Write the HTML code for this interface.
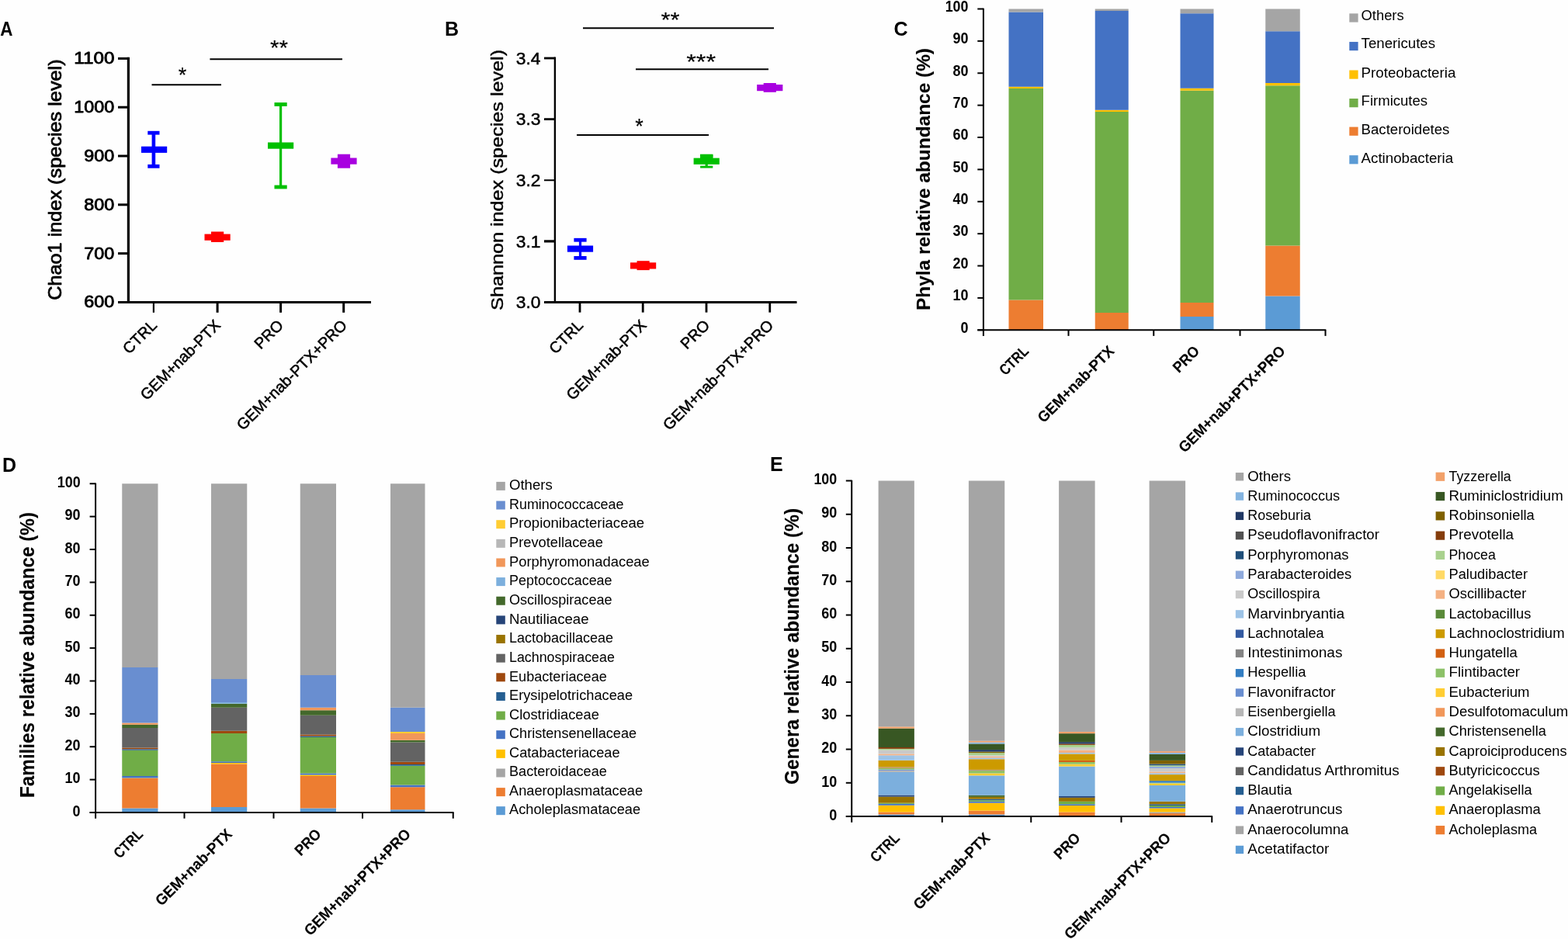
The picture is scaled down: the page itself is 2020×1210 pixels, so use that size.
<!DOCTYPE html>
<html lang="en">
<head>
<meta charset="utf-8">
<title>Gut microbiota diversity and composition</title>
<style>
html, body { margin: 0; padding: 0; background: #fff; }
body { width: 2020px; height: 1210px; overflow: hidden; }
svg { display: block; font-family: 'Liberation Sans', sans-serif; }
</style>
</head>
<body>
<svg width="2020" height="1210" viewBox="0 0 2020 1210">
<rect x="0" y="0" width="2020" height="1210" fill="#fefefe"/>
<g id="panelA">
<text x="0.20" y="45.60" font-size="25" text-anchor="start" font-weight="bold" textLength="16.20" lengthAdjust="spacingAndGlyphs">A</text>
<line x1="165.40" y1="73.80" x2="165.40" y2="391.10" stroke="#000" stroke-width="3.2" stroke-linecap="butt"/>
<line x1="152.00" y1="389.50" x2="478.00" y2="389.50" stroke="#000" stroke-width="3.2" stroke-linecap="butt"/>
<line x1="152.00" y1="75.40" x2="165.40" y2="75.40" stroke="#000" stroke-width="3.0" stroke-linecap="butt"/>
<text x="147.40" y="82.30" font-size="21.8" text-anchor="end" textLength="52.12" lengthAdjust="spacingAndGlyphs" stroke="#000" stroke-width="0.85" stroke-linejoin="round">1100</text>
<line x1="152.00" y1="138.20" x2="165.40" y2="138.20" stroke="#000" stroke-width="3.0" stroke-linecap="butt"/>
<text x="147.40" y="145.10" font-size="21.8" text-anchor="end" textLength="52.12" lengthAdjust="spacingAndGlyphs" stroke="#000" stroke-width="0.85" stroke-linejoin="round">1000</text>
<line x1="152.00" y1="201.00" x2="165.40" y2="201.00" stroke="#000" stroke-width="3.0" stroke-linecap="butt"/>
<text x="147.40" y="207.90" font-size="21.8" text-anchor="end" textLength="39.09" lengthAdjust="spacingAndGlyphs" stroke="#000" stroke-width="0.85" stroke-linejoin="round">900</text>
<line x1="152.00" y1="263.80" x2="165.40" y2="263.80" stroke="#000" stroke-width="3.0" stroke-linecap="butt"/>
<text x="147.40" y="270.70" font-size="21.8" text-anchor="end" textLength="39.09" lengthAdjust="spacingAndGlyphs" stroke="#000" stroke-width="0.85" stroke-linejoin="round">800</text>
<line x1="152.00" y1="326.60" x2="165.40" y2="326.60" stroke="#000" stroke-width="3.0" stroke-linecap="butt"/>
<text x="147.40" y="333.50" font-size="21.8" text-anchor="end" textLength="39.09" lengthAdjust="spacingAndGlyphs" stroke="#000" stroke-width="0.85" stroke-linejoin="round">700</text>
<line x1="152.00" y1="389.50" x2="165.40" y2="389.50" stroke="#000" stroke-width="3.0" stroke-linecap="butt"/>
<text x="147.40" y="396.40" font-size="21.8" text-anchor="end" textLength="39.09" lengthAdjust="spacingAndGlyphs" stroke="#000" stroke-width="0.85" stroke-linejoin="round">600</text>
<line x1="197.90" y1="389.50" x2="197.90" y2="402.80" stroke="#000" stroke-width="2.2" stroke-linecap="butt"/>
<line x1="280.10" y1="389.50" x2="280.10" y2="402.80" stroke="#000" stroke-width="3" stroke-linecap="butt"/>
<line x1="361.60" y1="389.50" x2="361.60" y2="402.80" stroke="#000" stroke-width="3" stroke-linecap="butt"/>
<line x1="442.70" y1="389.50" x2="442.70" y2="402.80" stroke="#000" stroke-width="3" stroke-linecap="butt"/>
<text x="79.00" y="231.60" font-size="23.4" text-anchor="middle" transform="rotate(-90 79.00 231.60)" textLength="310.50" lengthAdjust="spacingAndGlyphs" stroke="#000" stroke-width="0.75" stroke-linejoin="round">Chao1 index (species level)</text>
<text x="203.30" y="420.40" font-size="20" text-anchor="end" transform="rotate(-45 203.30 420.40)" stroke="#000" stroke-width="0.55" stroke-linejoin="round">CTRL</text>
<text x="285.30" y="420.40" font-size="20" text-anchor="end" transform="rotate(-45 285.30 420.40)" stroke="#000" stroke-width="0.55" stroke-linejoin="round">GEM+nab-PTX</text>
<text x="366.30" y="420.40" font-size="20" text-anchor="end" transform="rotate(-45 366.30 420.40)" stroke="#000" stroke-width="0.55" stroke-linejoin="round">PRO</text>
<text x="448.30" y="420.40" font-size="20" text-anchor="end" transform="rotate(-45 448.30 420.40)" stroke="#000" stroke-width="0.55" stroke-linejoin="round">GEM+nab-PTX+PRO</text>
<rect x="195.60" y="171.20" width="4.60" height="43.10" fill="#0000ff"/>
<rect x="190.30" y="168.80" width="15.20" height="4.80" fill="#0000ff"/>
<rect x="190.30" y="211.90" width="15.20" height="4.80" fill="#0000ff"/>
<rect x="182.00" y="188.70" width="33.20" height="8.20" fill="#0000ff"/>
<rect x="272.00" y="298.50" width="16.20" height="13.50" fill="#ff0000"/>
<rect x="263.50" y="301.60" width="33.20" height="8.20" fill="#ff0000"/>
<rect x="360.00" y="134.50" width="3.20" height="106.50" fill="#00c000"/>
<rect x="353.50" y="132.10" width="16.20" height="4.80" fill="#00c000"/>
<rect x="353.50" y="238.60" width="16.20" height="4.80" fill="#00c000"/>
<rect x="345.00" y="183.50" width="33.20" height="8.20" fill="#00c000"/>
<rect x="434.90" y="198.70" width="16.20" height="18.00" fill="#a800e0"/>
<rect x="426.40" y="203.50" width="33.20" height="8.20" fill="#a800e0"/>
<line x1="195.50" y1="109.30" x2="285.00" y2="109.30" stroke="#000" stroke-width="2" stroke-linecap="butt"/>
<line x1="270.40" y1="76.20" x2="441.00" y2="76.20" stroke="#000" stroke-width="2" stroke-linecap="butt"/>
<text x="234.90" y="105.80" font-size="27" text-anchor="middle" stroke="#000" stroke-width="0.15" stroke-linejoin="round">*</text>
<text x="359.60" y="71.10" font-size="27" text-anchor="middle" textLength="23.00" lengthAdjust="spacingAndGlyphs" stroke="#000" stroke-width="0.15" stroke-linejoin="round">**</text>
</g>
<g id="panelB">
<text x="573.00" y="46.00" font-size="25" text-anchor="start" font-weight="bold">B</text>
<line x1="714.90" y1="73.50" x2="714.90" y2="391.00" stroke="#000" stroke-width="2.4" stroke-linecap="butt"/>
<line x1="701.00" y1="389.50" x2="1026.50" y2="389.50" stroke="#000" stroke-width="3.0" stroke-linecap="butt"/>
<line x1="701.00" y1="75.00" x2="714.90" y2="75.00" stroke="#000" stroke-width="2.8" stroke-linecap="butt"/>
<text x="696.50" y="82.80" font-size="21.8" text-anchor="end" textLength="31.67" lengthAdjust="spacingAndGlyphs" stroke="#000" stroke-width="0.5" stroke-linejoin="round">3.4</text>
<line x1="701.00" y1="153.60" x2="714.90" y2="153.60" stroke="#000" stroke-width="2.8" stroke-linecap="butt"/>
<text x="696.50" y="161.40" font-size="21.8" text-anchor="end" textLength="31.67" lengthAdjust="spacingAndGlyphs" stroke="#000" stroke-width="0.5" stroke-linejoin="round">3.3</text>
<line x1="701.00" y1="232.25" x2="714.90" y2="232.25" stroke="#000" stroke-width="2.0" stroke-linecap="butt"/>
<text x="696.50" y="240.05" font-size="21.8" text-anchor="end" textLength="31.67" lengthAdjust="spacingAndGlyphs" stroke="#000" stroke-width="0.5" stroke-linejoin="round">3.2</text>
<line x1="701.00" y1="310.90" x2="714.90" y2="310.90" stroke="#000" stroke-width="3.2" stroke-linecap="butt"/>
<text x="696.50" y="318.70" font-size="21.8" text-anchor="end" textLength="31.67" lengthAdjust="spacingAndGlyphs" stroke="#000" stroke-width="0.5" stroke-linejoin="round">3.1</text>
<line x1="701.00" y1="389.50" x2="714.90" y2="389.50" stroke="#000" stroke-width="3.0" stroke-linecap="butt"/>
<text x="696.50" y="397.30" font-size="21.8" text-anchor="end" textLength="31.67" lengthAdjust="spacingAndGlyphs" stroke="#000" stroke-width="0.5" stroke-linejoin="round">3.0</text>
<line x1="747.00" y1="389.50" x2="747.00" y2="402.60" stroke="#000" stroke-width="2.8" stroke-linecap="butt"/>
<line x1="828.20" y1="389.50" x2="828.20" y2="402.60" stroke="#000" stroke-width="2.8" stroke-linecap="butt"/>
<line x1="910.00" y1="389.50" x2="910.00" y2="402.60" stroke="#000" stroke-width="2.8" stroke-linecap="butt"/>
<line x1="991.75" y1="389.50" x2="991.75" y2="402.60" stroke="#000" stroke-width="2.8" stroke-linecap="butt"/>
<text x="647.90" y="231.90" font-size="22.2" text-anchor="middle" transform="rotate(-90 647.90 231.90)" textLength="336.00" lengthAdjust="spacingAndGlyphs" stroke="#000" stroke-width="0.45" stroke-linejoin="round">Shannon index (species level)</text>
<text x="752.50" y="420.40" font-size="20" text-anchor="end" transform="rotate(-45 752.50 420.40)" stroke="#000" stroke-width="0.55" stroke-linejoin="round">CTRL</text>
<text x="834.00" y="420.40" font-size="20" text-anchor="end" transform="rotate(-45 834.00 420.40)" stroke="#000" stroke-width="0.55" stroke-linejoin="round">GEM+nab-PTX</text>
<text x="915.50" y="420.40" font-size="20" text-anchor="end" transform="rotate(-45 915.50 420.40)" stroke="#000" stroke-width="0.55" stroke-linejoin="round">PRO</text>
<text x="997.50" y="420.40" font-size="20" text-anchor="end" transform="rotate(-45 997.50 420.40)" stroke="#000" stroke-width="0.55" stroke-linejoin="round">GEM+nab-PTX+PRO</text>
<rect x="745.90" y="309.25" width="3.20" height="23.15" fill="#0000ff"/>
<rect x="739.40" y="306.85" width="16.20" height="4.80" fill="#0000ff"/>
<rect x="739.40" y="330.00" width="16.20" height="4.80" fill="#0000ff"/>
<rect x="730.90" y="316.50" width="33.20" height="8.20" fill="#0000ff"/>
<rect x="820.50" y="336.20" width="16.20" height="11.90" fill="#ff0000"/>
<rect x="812.00" y="338.30" width="33.20" height="8.20" fill="#ff0000"/>
<rect x="908.60" y="201.20" width="3.20" height="13.90" fill="#00c000"/>
<rect x="902.10" y="199.75" width="16.20" height="2.90" fill="#00c000"/>
<rect x="902.10" y="213.65" width="16.20" height="2.90" fill="#00c000"/>
<rect x="893.60" y="203.65" width="33.20" height="8.20" fill="#00c000"/>
<rect x="902.00" y="198.70" width="16.50" height="5.30" fill="#00c000"/>
<rect x="983.65" y="107.00" width="16.20" height="11.80" fill="#a800e0"/>
<rect x="975.15" y="109.00" width="33.20" height="8.20" fill="#a800e0"/>
<line x1="751.00" y1="36.25" x2="997.00" y2="36.25" stroke="#000" stroke-width="2" stroke-linecap="butt"/>
<line x1="819.00" y1="89.25" x2="990.00" y2="89.25" stroke="#000" stroke-width="2" stroke-linecap="butt"/>
<line x1="743.00" y1="174.00" x2="913.00" y2="174.00" stroke="#000" stroke-width="2" stroke-linecap="butt"/>
<text x="863.50" y="34.60" font-size="27" text-anchor="middle" textLength="24.00" lengthAdjust="spacingAndGlyphs" stroke="#000" stroke-width="0.15" stroke-linejoin="round">**</text>
<text x="903.20" y="88.80" font-size="27" text-anchor="middle" textLength="38.00" lengthAdjust="spacingAndGlyphs" stroke="#000" stroke-width="0.15" stroke-linejoin="round">***</text>
<text x="823.50" y="172.10" font-size="27" text-anchor="middle" stroke="#000" stroke-width="0.15" stroke-linejoin="round">*</text>
</g>
<g id="panelC">
<text x="1151.50" y="45.80" font-size="25" text-anchor="start" font-weight="bold">C</text>
<rect x="1299.50" y="386.50" width="44.50" height="38.50" fill="#ed7d31"/>
<rect x="1299.50" y="114.00" width="44.50" height="272.50" fill="#70ad47"/>
<rect x="1299.50" y="111.75" width="44.50" height="2.25" fill="#ffc000"/>
<rect x="1299.50" y="15.50" width="44.50" height="96.25" fill="#4472c4"/>
<rect x="1299.50" y="11.50" width="44.50" height="4.00" fill="#a5a5a5"/>
<rect x="1410.75" y="403.00" width="43.00" height="22.00" fill="#ed7d31"/>
<rect x="1410.75" y="144.00" width="43.00" height="259.00" fill="#70ad47"/>
<rect x="1410.75" y="141.75" width="43.00" height="2.25" fill="#ffc000"/>
<rect x="1410.75" y="14.00" width="43.00" height="127.75" fill="#4472c4"/>
<rect x="1410.75" y="11.50" width="43.00" height="2.50" fill="#a5a5a5"/>
<rect x="1520.50" y="408.00" width="43.00" height="17.00" fill="#5b9bd5"/>
<rect x="1520.50" y="390.00" width="43.00" height="18.00" fill="#ed7d31"/>
<rect x="1520.50" y="116.75" width="43.00" height="273.25" fill="#70ad47"/>
<rect x="1520.50" y="113.75" width="43.00" height="3.00" fill="#ffc000"/>
<rect x="1520.50" y="17.25" width="43.00" height="96.50" fill="#4472c4"/>
<rect x="1520.50" y="11.50" width="43.00" height="5.75" fill="#a5a5a5"/>
<rect x="1630.25" y="381.50" width="44.50" height="43.50" fill="#5b9bd5"/>
<rect x="1630.25" y="316.50" width="44.50" height="65.00" fill="#ed7d31"/>
<rect x="1630.25" y="110.25" width="44.50" height="206.25" fill="#70ad47"/>
<rect x="1630.25" y="107.00" width="44.50" height="3.25" fill="#ffc000"/>
<rect x="1630.25" y="40.25" width="44.50" height="66.75" fill="#4472c4"/>
<rect x="1630.25" y="11.50" width="44.50" height="28.75" fill="#a5a5a5"/>
<line x1="1266.90" y1="10.70" x2="1266.90" y2="432.90" stroke="#000" stroke-width="2.0" stroke-linecap="butt"/>
<line x1="1259.30" y1="425.30" x2="1708.30" y2="425.30" stroke="#000" stroke-width="2.0" stroke-linecap="butt"/>
<line x1="1259.30" y1="11.50" x2="1266.90" y2="11.50" stroke="#000" stroke-width="2.0" stroke-linecap="butt"/>
<text x="1247.50" y="14.80" font-size="19.6" text-anchor="end" font-weight="bold" textLength="29.80" lengthAdjust="spacingAndGlyphs">100</text>
<line x1="1259.30" y1="52.88" x2="1266.90" y2="52.88" stroke="#000" stroke-width="2.0" stroke-linecap="butt"/>
<text x="1247.50" y="56.18" font-size="19.6" text-anchor="end" font-weight="bold" textLength="20.00" lengthAdjust="spacingAndGlyphs">90</text>
<line x1="1259.30" y1="94.26" x2="1266.90" y2="94.26" stroke="#000" stroke-width="2.0" stroke-linecap="butt"/>
<text x="1247.50" y="97.56" font-size="19.6" text-anchor="end" font-weight="bold" textLength="20.00" lengthAdjust="spacingAndGlyphs">80</text>
<line x1="1259.30" y1="135.64" x2="1266.90" y2="135.64" stroke="#000" stroke-width="2.0" stroke-linecap="butt"/>
<text x="1247.50" y="138.94" font-size="19.6" text-anchor="end" font-weight="bold" textLength="20.00" lengthAdjust="spacingAndGlyphs">70</text>
<line x1="1259.30" y1="177.02" x2="1266.90" y2="177.02" stroke="#000" stroke-width="2.0" stroke-linecap="butt"/>
<text x="1247.50" y="180.32" font-size="19.6" text-anchor="end" font-weight="bold" textLength="20.00" lengthAdjust="spacingAndGlyphs">60</text>
<line x1="1259.30" y1="218.40" x2="1266.90" y2="218.40" stroke="#000" stroke-width="2.0" stroke-linecap="butt"/>
<text x="1247.50" y="221.70" font-size="19.6" text-anchor="end" font-weight="bold" textLength="20.00" lengthAdjust="spacingAndGlyphs">50</text>
<line x1="1259.30" y1="259.78" x2="1266.90" y2="259.78" stroke="#000" stroke-width="2.0" stroke-linecap="butt"/>
<text x="1247.50" y="263.08" font-size="19.6" text-anchor="end" font-weight="bold" textLength="20.00" lengthAdjust="spacingAndGlyphs">40</text>
<line x1="1259.30" y1="301.16" x2="1266.90" y2="301.16" stroke="#000" stroke-width="2.0" stroke-linecap="butt"/>
<text x="1247.50" y="304.46" font-size="19.6" text-anchor="end" font-weight="bold" textLength="20.00" lengthAdjust="spacingAndGlyphs">30</text>
<line x1="1259.30" y1="342.54" x2="1266.90" y2="342.54" stroke="#000" stroke-width="2.0" stroke-linecap="butt"/>
<text x="1247.50" y="345.84" font-size="19.6" text-anchor="end" font-weight="bold" textLength="20.00" lengthAdjust="spacingAndGlyphs">20</text>
<line x1="1259.30" y1="383.92" x2="1266.90" y2="383.92" stroke="#000" stroke-width="2.0" stroke-linecap="butt"/>
<text x="1247.50" y="387.22" font-size="19.6" text-anchor="end" font-weight="bold" textLength="20.00" lengthAdjust="spacingAndGlyphs">10</text>
<line x1="1259.30" y1="425.30" x2="1266.90" y2="425.30" stroke="#000" stroke-width="2.0" stroke-linecap="butt"/>
<text x="1247.50" y="428.60" font-size="19.6" text-anchor="end" font-weight="bold" textLength="10.00" lengthAdjust="spacingAndGlyphs">0</text>
<line x1="1376.50" y1="425.30" x2="1376.50" y2="432.90" stroke="#000" stroke-width="2.0" stroke-linecap="butt"/>
<line x1="1486.25" y1="425.30" x2="1486.25" y2="432.90" stroke="#000" stroke-width="2.0" stroke-linecap="butt"/>
<line x1="1597.50" y1="425.30" x2="1597.50" y2="432.90" stroke="#000" stroke-width="2.0" stroke-linecap="butt"/>
<line x1="1707.50" y1="425.30" x2="1707.50" y2="432.90" stroke="#000" stroke-width="2.0" stroke-linecap="butt"/>
<text x="1198.00" y="231.00" font-size="24.3" text-anchor="middle" font-weight="bold" transform="rotate(-90 1198.00 231.00)" textLength="338.00" lengthAdjust="spacingAndGlyphs" stroke="#000" stroke-width="0.12" stroke-linejoin="round">Phyla relative abundance (%)</text>
<text x="1326.40" y="453.60" font-size="19.5" text-anchor="end" font-weight="bold" transform="rotate(-45 1326.40 453.60)" textLength="44.20" lengthAdjust="spacingAndGlyphs" stroke="#000" stroke-width="0.1" stroke-linejoin="round">CTRL</text>
<text x="1436.65" y="453.60" font-size="19.5" text-anchor="end" font-weight="bold" transform="rotate(-45 1436.65 453.60)" textLength="130.40" lengthAdjust="spacingAndGlyphs" stroke="#000" stroke-width="0.1" stroke-linejoin="round">GEM+nab-PTX</text>
<text x="1546.40" y="453.60" font-size="19.5" text-anchor="end" font-weight="bold" transform="rotate(-45 1546.40 453.60)" textLength="39.00" lengthAdjust="spacingAndGlyphs" stroke="#000" stroke-width="0.1" stroke-linejoin="round">PRO</text>
<text x="1656.90" y="453.60" font-size="19.5" text-anchor="end" font-weight="bold" transform="rotate(-45 1656.90 453.60)" textLength="184.60" lengthAdjust="spacingAndGlyphs" stroke="#000" stroke-width="0.1" stroke-linejoin="round">GEM+nab+PTX+PRO</text>
<rect x="1738.30" y="17.40" width="11.30" height="11.20" fill="#a5a5a5"/>
<text x="1753.60" y="25.50" font-size="18" text-anchor="start" textLength="55.00" lengthAdjust="spacingAndGlyphs">Others</text>
<rect x="1738.30" y="53.95" width="11.30" height="11.20" fill="#4472c4"/>
<text x="1753.60" y="61.70" font-size="18" text-anchor="start" textLength="95.50" lengthAdjust="spacingAndGlyphs">Tenericutes</text>
<rect x="1738.30" y="90.50" width="11.30" height="11.20" fill="#ffc000"/>
<text x="1753.60" y="99.70" font-size="18" text-anchor="start" textLength="121.75" lengthAdjust="spacingAndGlyphs">Proteobacteria</text>
<rect x="1738.30" y="127.05" width="11.30" height="11.20" fill="#70ad47"/>
<text x="1753.60" y="136.30" font-size="18" text-anchor="start" textLength="85.50" lengthAdjust="spacingAndGlyphs">Firmicutes</text>
<rect x="1738.30" y="163.60" width="11.30" height="11.20" fill="#ed7d31"/>
<text x="1753.60" y="173.20" font-size="18" text-anchor="start" textLength="113.75" lengthAdjust="spacingAndGlyphs">Bacteroidetes</text>
<rect x="1738.30" y="200.15" width="11.30" height="11.20" fill="#5b9bd5"/>
<text x="1753.60" y="210.00" font-size="18" text-anchor="start" textLength="118.50" lengthAdjust="spacingAndGlyphs">Actinobacteria</text>
</g>
<g id="panelD">
<text x="3.00" y="607.50" font-size="25" text-anchor="start" font-weight="bold">D</text>
<rect x="157.25" y="1041.50" width="46.25" height="5.50" fill="#5b9bd5"/>
<rect x="157.25" y="1003.00" width="46.25" height="38.50" fill="#ed7d31"/>
<rect x="157.25" y="1002.50" width="46.25" height="0.50" fill="#ffc000"/>
<rect x="157.25" y="1000.00" width="46.25" height="2.50" fill="#4472c4"/>
<rect x="157.25" y="966.75" width="46.25" height="33.25" fill="#70ad47"/>
<rect x="157.25" y="965.25" width="46.25" height="1.50" fill="#255e91"/>
<rect x="157.25" y="963.50" width="46.25" height="1.75" fill="#9e480e"/>
<rect x="157.25" y="938.00" width="46.25" height="25.50" fill="#636363"/>
<rect x="157.25" y="933.75" width="46.25" height="4.25" fill="#43682b"/>
<rect x="157.25" y="931.50" width="46.25" height="2.25" fill="#f1975a"/>
<rect x="157.25" y="860.00" width="46.25" height="71.50" fill="#698ed0"/>
<rect x="157.25" y="623.25" width="46.25" height="236.75" fill="#a5a5a5"/>
<rect x="272.00" y="1040.00" width="46.25" height="7.00" fill="#5b9bd5"/>
<rect x="272.00" y="984.50" width="46.25" height="55.50" fill="#ed7d31"/>
<rect x="272.00" y="983.00" width="46.25" height="1.50" fill="#ffc000"/>
<rect x="272.00" y="981.25" width="46.25" height="1.75" fill="#4472c4"/>
<rect x="272.00" y="945.00" width="46.25" height="36.25" fill="#70ad47"/>
<rect x="272.00" y="941.75" width="46.25" height="3.25" fill="#9e480e"/>
<rect x="272.00" y="911.75" width="46.25" height="30.00" fill="#636363"/>
<rect x="272.00" y="906.75" width="46.25" height="5.00" fill="#43682b"/>
<rect x="272.00" y="905.00" width="46.25" height="1.75" fill="#7cafdd"/>
<rect x="272.00" y="875.00" width="46.25" height="30.00" fill="#698ed0"/>
<rect x="272.00" y="623.25" width="46.25" height="251.75" fill="#a5a5a5"/>
<rect x="386.75" y="1041.50" width="46.25" height="5.50" fill="#5b9bd5"/>
<rect x="386.75" y="1000.00" width="46.25" height="41.50" fill="#ed7d31"/>
<rect x="386.75" y="998.50" width="46.25" height="1.50" fill="#ffc000"/>
<rect x="386.75" y="996.50" width="46.25" height="2.00" fill="#4472c4"/>
<rect x="386.75" y="950.00" width="46.25" height="46.50" fill="#70ad47"/>
<rect x="386.75" y="948.50" width="46.25" height="1.50" fill="#255e91"/>
<rect x="386.75" y="946.50" width="46.25" height="2.00" fill="#9e480e"/>
<rect x="386.75" y="921.75" width="46.25" height="24.75" fill="#636363"/>
<rect x="386.75" y="915.25" width="46.25" height="6.50" fill="#43682b"/>
<rect x="386.75" y="911.75" width="46.25" height="3.50" fill="#f1975a"/>
<rect x="386.75" y="870.00" width="46.25" height="41.75" fill="#698ed0"/>
<rect x="386.75" y="623.25" width="46.25" height="246.75" fill="#a5a5a5"/>
<rect x="503.00" y="1043.25" width="44.50" height="3.75" fill="#5b9bd5"/>
<rect x="503.00" y="1014.25" width="44.50" height="29.00" fill="#ed7d31"/>
<rect x="503.00" y="1011.50" width="44.50" height="2.75" fill="#4472c4"/>
<rect x="503.00" y="986.75" width="44.50" height="24.75" fill="#70ad47"/>
<rect x="503.00" y="985.00" width="44.50" height="1.75" fill="#255e91"/>
<rect x="503.00" y="981.75" width="44.50" height="3.25" fill="#9e480e"/>
<rect x="503.00" y="956.50" width="44.50" height="25.25" fill="#636363"/>
<rect x="503.00" y="953.75" width="44.50" height="2.75" fill="#43682b"/>
<rect x="503.00" y="945.00" width="44.50" height="8.75" fill="#f1975a"/>
<rect x="503.00" y="943.00" width="44.50" height="2.00" fill="#ffcd33"/>
<rect x="503.00" y="911.75" width="44.50" height="31.25" fill="#698ed0"/>
<rect x="503.00" y="623.25" width="44.50" height="288.50" fill="#a5a5a5"/>
<line x1="123.10" y1="622.45" x2="123.10" y2="1054.70" stroke="#000" stroke-width="2.0" stroke-linecap="butt"/>
<line x1="115.60" y1="1047.00" x2="584.55" y2="1047.00" stroke="#000" stroke-width="2.0" stroke-linecap="butt"/>
<line x1="115.60" y1="623.25" x2="123.10" y2="623.25" stroke="#000" stroke-width="2.0" stroke-linecap="butt"/>
<text x="103.60" y="627.80" font-size="19.6" text-anchor="end" font-weight="bold" textLength="29.80" lengthAdjust="spacingAndGlyphs">100</text>
<line x1="115.60" y1="665.62" x2="123.10" y2="665.62" stroke="#000" stroke-width="2.0" stroke-linecap="butt"/>
<text x="103.60" y="670.17" font-size="19.6" text-anchor="end" font-weight="bold" textLength="20.00" lengthAdjust="spacingAndGlyphs">90</text>
<line x1="115.60" y1="708.00" x2="123.10" y2="708.00" stroke="#000" stroke-width="2.0" stroke-linecap="butt"/>
<text x="103.60" y="712.55" font-size="19.6" text-anchor="end" font-weight="bold" textLength="20.00" lengthAdjust="spacingAndGlyphs">80</text>
<line x1="115.60" y1="750.38" x2="123.10" y2="750.38" stroke="#000" stroke-width="2.0" stroke-linecap="butt"/>
<text x="103.60" y="754.92" font-size="19.6" text-anchor="end" font-weight="bold" textLength="20.00" lengthAdjust="spacingAndGlyphs">70</text>
<line x1="115.60" y1="792.75" x2="123.10" y2="792.75" stroke="#000" stroke-width="2.0" stroke-linecap="butt"/>
<text x="103.60" y="797.30" font-size="19.6" text-anchor="end" font-weight="bold" textLength="20.00" lengthAdjust="spacingAndGlyphs">60</text>
<line x1="115.60" y1="835.12" x2="123.10" y2="835.12" stroke="#000" stroke-width="2.0" stroke-linecap="butt"/>
<text x="103.60" y="839.67" font-size="19.6" text-anchor="end" font-weight="bold" textLength="20.00" lengthAdjust="spacingAndGlyphs">50</text>
<line x1="115.60" y1="877.50" x2="123.10" y2="877.50" stroke="#000" stroke-width="2.0" stroke-linecap="butt"/>
<text x="103.60" y="882.05" font-size="19.6" text-anchor="end" font-weight="bold" textLength="20.00" lengthAdjust="spacingAndGlyphs">40</text>
<line x1="115.60" y1="919.88" x2="123.10" y2="919.88" stroke="#000" stroke-width="2.0" stroke-linecap="butt"/>
<text x="103.60" y="924.42" font-size="19.6" text-anchor="end" font-weight="bold" textLength="20.00" lengthAdjust="spacingAndGlyphs">30</text>
<line x1="115.60" y1="962.25" x2="123.10" y2="962.25" stroke="#000" stroke-width="2.0" stroke-linecap="butt"/>
<text x="103.60" y="966.80" font-size="19.6" text-anchor="end" font-weight="bold" textLength="20.00" lengthAdjust="spacingAndGlyphs">20</text>
<line x1="115.60" y1="1004.62" x2="123.10" y2="1004.62" stroke="#000" stroke-width="2.0" stroke-linecap="butt"/>
<text x="103.60" y="1009.17" font-size="19.6" text-anchor="end" font-weight="bold" textLength="20.00" lengthAdjust="spacingAndGlyphs">10</text>
<line x1="115.60" y1="1047.00" x2="123.10" y2="1047.00" stroke="#000" stroke-width="2.0" stroke-linecap="butt"/>
<text x="103.60" y="1051.55" font-size="19.6" text-anchor="end" font-weight="bold" textLength="10.00" lengthAdjust="spacingAndGlyphs">0</text>
<line x1="237.50" y1="1047.00" x2="237.50" y2="1054.70" stroke="#000" stroke-width="2.0" stroke-linecap="butt"/>
<line x1="352.50" y1="1047.00" x2="352.50" y2="1054.70" stroke="#000" stroke-width="2.0" stroke-linecap="butt"/>
<line x1="467.00" y1="1047.00" x2="467.00" y2="1054.70" stroke="#000" stroke-width="2.0" stroke-linecap="butt"/>
<line x1="583.75" y1="1047.00" x2="583.75" y2="1054.70" stroke="#000" stroke-width="2.0" stroke-linecap="butt"/>
<text x="44.30" y="844.00" font-size="25" text-anchor="middle" font-weight="bold" transform="rotate(-90 44.30 844.00)" textLength="368.00" lengthAdjust="spacingAndGlyphs" stroke="#000" stroke-width="0.12" stroke-linejoin="round">Families relative abundance (%)</text>
<text x="185.50" y="1076.10" font-size="19.5" text-anchor="end" font-weight="bold" transform="rotate(-45 185.50 1076.10)" textLength="44.20" lengthAdjust="spacingAndGlyphs" stroke="#000" stroke-width="0.1" stroke-linejoin="round">CTRL</text>
<text x="300.20" y="1076.10" font-size="19.5" text-anchor="end" font-weight="bold" transform="rotate(-45 300.20 1076.10)" textLength="130.40" lengthAdjust="spacingAndGlyphs" stroke="#000" stroke-width="0.1" stroke-linejoin="round">GEM+nab-PTX</text>
<text x="415.00" y="1076.10" font-size="19.5" text-anchor="end" font-weight="bold" transform="rotate(-45 415.00 1076.10)" textLength="39.00" lengthAdjust="spacingAndGlyphs" stroke="#000" stroke-width="0.1" stroke-linejoin="round">PRO</text>
<text x="530.35" y="1076.10" font-size="19.5" text-anchor="end" font-weight="bold" transform="rotate(-45 530.35 1076.10)" textLength="184.60" lengthAdjust="spacingAndGlyphs" stroke="#000" stroke-width="0.1" stroke-linejoin="round">GEM+nab+PTX+PRO</text>
<rect x="639.30" y="620.90" width="11.50" height="11.00" fill="#a5a5a5"/>
<text x="656.00" y="631.10" font-size="18" text-anchor="start" textLength="55.80" lengthAdjust="spacingAndGlyphs">Others</text>
<rect x="639.30" y="645.54" width="11.50" height="11.00" fill="#698ed0"/>
<text x="656.00" y="655.74" font-size="18" text-anchor="start" textLength="147.55" lengthAdjust="spacingAndGlyphs">Ruminococcaceae</text>
<rect x="639.30" y="670.18" width="11.50" height="11.00" fill="#ffcd33"/>
<text x="656.00" y="680.38" font-size="18" text-anchor="start" textLength="174.05" lengthAdjust="spacingAndGlyphs">Propionibacteriaceae</text>
<rect x="639.30" y="694.82" width="11.50" height="11.00" fill="#b7b7b7"/>
<text x="656.00" y="705.02" font-size="18" text-anchor="start" textLength="120.80" lengthAdjust="spacingAndGlyphs">Prevotellaceae</text>
<rect x="639.30" y="719.46" width="11.50" height="11.00" fill="#f1975a"/>
<text x="656.00" y="729.66" font-size="18" text-anchor="start" textLength="180.80" lengthAdjust="spacingAndGlyphs">Porphyromonadaceae</text>
<rect x="639.30" y="744.10" width="11.50" height="11.00" fill="#7cafdd"/>
<text x="656.00" y="754.30" font-size="18" text-anchor="start" textLength="132.55" lengthAdjust="spacingAndGlyphs">Peptococcaceae</text>
<rect x="639.30" y="768.74" width="11.50" height="11.00" fill="#43682b"/>
<text x="656.00" y="778.94" font-size="18" text-anchor="start" textLength="132.55" lengthAdjust="spacingAndGlyphs">Oscillospiraceae</text>
<rect x="639.30" y="793.38" width="11.50" height="11.00" fill="#264478"/>
<text x="656.00" y="803.58" font-size="18" text-anchor="start" textLength="102.55" lengthAdjust="spacingAndGlyphs">Nautiliaceae</text>
<rect x="639.30" y="818.02" width="11.50" height="11.00" fill="#997300"/>
<text x="656.00" y="828.22" font-size="18" text-anchor="start" textLength="134.05" lengthAdjust="spacingAndGlyphs">Lactobacillaceae</text>
<rect x="639.30" y="842.66" width="11.50" height="11.00" fill="#636363"/>
<text x="656.00" y="852.86" font-size="18" text-anchor="start" textLength="135.80" lengthAdjust="spacingAndGlyphs">Lachnospiraceae</text>
<rect x="639.30" y="867.30" width="11.50" height="11.00" fill="#9e480e"/>
<text x="656.00" y="877.50" font-size="18" text-anchor="start" textLength="125.80" lengthAdjust="spacingAndGlyphs">Eubacteriaceae</text>
<rect x="639.30" y="891.94" width="11.50" height="11.00" fill="#255e91"/>
<text x="656.00" y="902.14" font-size="18" text-anchor="start" textLength="159.05" lengthAdjust="spacingAndGlyphs">Erysipelotrichaceae</text>
<rect x="639.30" y="916.58" width="11.50" height="11.00" fill="#70ad47"/>
<text x="656.00" y="926.78" font-size="18" text-anchor="start" textLength="115.80" lengthAdjust="spacingAndGlyphs">Clostridiaceae</text>
<rect x="639.30" y="941.22" width="11.50" height="11.00" fill="#4472c4"/>
<text x="656.00" y="951.42" font-size="18" text-anchor="start" textLength="164.05" lengthAdjust="spacingAndGlyphs">Christensenellaceae</text>
<rect x="639.30" y="965.86" width="11.50" height="11.00" fill="#ffc000"/>
<text x="656.00" y="976.06" font-size="18" text-anchor="start" textLength="142.55" lengthAdjust="spacingAndGlyphs">Catabacteriaceae</text>
<rect x="639.30" y="990.50" width="11.50" height="11.00" fill="#a5a5a5"/>
<text x="656.00" y="999.70" font-size="18" text-anchor="start" textLength="125.80" lengthAdjust="spacingAndGlyphs">Bacteroidaceae</text>
<rect x="639.30" y="1015.14" width="11.50" height="11.00" fill="#ed7d31"/>
<text x="656.00" y="1024.94" font-size="18" text-anchor="start" textLength="172.05" lengthAdjust="spacingAndGlyphs">Anaeroplasmataceae</text>
<rect x="639.30" y="1039.18" width="11.50" height="11.00" fill="#5b9bd5"/>
<text x="656.00" y="1049.08" font-size="18" text-anchor="start" textLength="169.05" lengthAdjust="spacingAndGlyphs">Acholeplasmataceae</text>
</g>
<g id="panelE">
<text x="992.00" y="607.00" font-size="25" text-anchor="start" font-weight="bold">E</text>
<rect x="1131.60" y="1049.54" width="46.25" height="2.21" fill="#5b9bd5"/>
<rect x="1131.60" y="1046.44" width="46.25" height="3.10" fill="#ed7d31"/>
<rect x="1131.60" y="1037.76" width="46.25" height="8.68" fill="#ffc000"/>
<rect x="1131.60" y="1035.90" width="46.25" height="1.86" fill="#4472c4"/>
<rect x="1131.60" y="1034.66" width="46.25" height="1.24" fill="#70ad47"/>
<rect x="1131.60" y="1026.61" width="46.25" height="8.06" fill="#997300"/>
<rect x="1131.60" y="1024.50" width="46.25" height="2.11" fill="#264478"/>
<rect x="1131.60" y="995.00" width="46.25" height="29.50" fill="#7cafdd"/>
<rect x="1131.60" y="992.89" width="46.25" height="2.11" fill="#b7b7b7"/>
<rect x="1131.60" y="991.53" width="46.25" height="1.36" fill="#698ed0"/>
<rect x="1131.60" y="989.67" width="46.25" height="1.86" fill="#8cc168"/>
<rect x="1131.60" y="989.05" width="46.25" height="0.62" fill="#d26012"/>
<rect x="1131.60" y="988.43" width="46.25" height="0.62" fill="#848484"/>
<rect x="1131.60" y="979.75" width="46.25" height="8.68" fill="#cc9a00"/>
<rect x="1131.60" y="973.30" width="46.25" height="6.45" fill="#9dc3e6"/>
<rect x="1131.60" y="971.44" width="46.25" height="1.86" fill="#f4b183"/>
<rect x="1131.60" y="966.49" width="46.25" height="4.96" fill="#c9c9c9"/>
<rect x="1131.60" y="964.87" width="46.25" height="1.61" fill="#a9d18e"/>
<rect x="1131.60" y="963.01" width="46.25" height="1.86" fill="#843c0b"/>
<rect x="1131.60" y="938.59" width="46.25" height="24.42" fill="#385723"/>
<rect x="1131.60" y="936.36" width="46.25" height="2.23" fill="#f2a16a"/>
<rect x="1131.60" y="619.50" width="46.25" height="316.86" fill="#a5a5a5"/>
<rect x="1247.90" y="1049.54" width="46.35" height="2.21" fill="#5b9bd5"/>
<rect x="1247.90" y="1044.58" width="46.35" height="4.96" fill="#ed7d31"/>
<rect x="1247.90" y="1034.66" width="46.35" height="9.92" fill="#ffc000"/>
<rect x="1247.90" y="1032.81" width="46.35" height="1.86" fill="#4472c4"/>
<rect x="1247.90" y="1031.19" width="46.35" height="1.61" fill="#70ad47"/>
<rect x="1247.90" y="1029.71" width="46.35" height="1.49" fill="#255e91"/>
<rect x="1247.90" y="1026.86" width="46.35" height="2.85" fill="#997300"/>
<rect x="1247.90" y="1024.75" width="46.35" height="2.11" fill="#43682b"/>
<rect x="1247.90" y="999.34" width="46.35" height="25.41" fill="#7cafdd"/>
<rect x="1247.90" y="996.48" width="46.35" height="2.85" fill="#ffcd33"/>
<rect x="1247.90" y="993.14" width="46.35" height="3.35" fill="#8cc168"/>
<rect x="1247.90" y="992.52" width="46.35" height="0.62" fill="#d26012"/>
<rect x="1247.90" y="991.90" width="46.35" height="0.62" fill="#848484"/>
<rect x="1247.90" y="978.26" width="46.35" height="13.64" fill="#cc9a00"/>
<rect x="1247.90" y="976.40" width="46.35" height="1.86" fill="#9dc3e6"/>
<rect x="1247.90" y="974.54" width="46.35" height="1.86" fill="#f4b183"/>
<rect x="1247.90" y="973.30" width="46.35" height="1.24" fill="#c9c9c9"/>
<rect x="1247.90" y="970.20" width="46.35" height="3.10" fill="#a9d18e"/>
<rect x="1247.90" y="968.59" width="46.35" height="1.61" fill="#7f6000"/>
<rect x="1247.90" y="966.11" width="46.35" height="2.48" fill="#203864"/>
<rect x="1247.90" y="958.43" width="46.35" height="7.69" fill="#385723"/>
<rect x="1247.90" y="956.57" width="46.35" height="1.86" fill="#84b4e0"/>
<rect x="1247.90" y="954.71" width="46.35" height="1.86" fill="#f2a16a"/>
<rect x="1247.90" y="619.50" width="46.35" height="335.21" fill="#a5a5a5"/>
<rect x="1364.10" y="1046.44" width="46.50" height="5.31" fill="#ed7d31"/>
<rect x="1364.10" y="1038.01" width="46.50" height="8.43" fill="#ffc000"/>
<rect x="1364.10" y="1036.28" width="46.50" height="1.74" fill="#4472c4"/>
<rect x="1364.10" y="1032.81" width="46.50" height="3.47" fill="#70ad47"/>
<rect x="1364.10" y="1027.85" width="46.50" height="4.96" fill="#997300"/>
<rect x="1364.10" y="1025.99" width="46.50" height="1.86" fill="#264478"/>
<rect x="1364.10" y="987.56" width="46.50" height="38.43" fill="#7cafdd"/>
<rect x="1364.10" y="984.71" width="46.50" height="2.85" fill="#ffcd33"/>
<rect x="1364.10" y="981.98" width="46.50" height="2.73" fill="#8cc168"/>
<rect x="1364.10" y="979.87" width="46.50" height="2.11" fill="#d26012"/>
<rect x="1364.10" y="971.44" width="46.50" height="8.43" fill="#cc9a00"/>
<rect x="1364.10" y="969.96" width="46.50" height="1.49" fill="#9dc3e6"/>
<rect x="1364.10" y="966.49" width="46.50" height="3.47" fill="#f4b183"/>
<rect x="1364.10" y="963.14" width="46.50" height="3.35" fill="#c9c9c9"/>
<rect x="1364.10" y="959.92" width="46.50" height="3.22" fill="#a9d18e"/>
<rect x="1364.10" y="958.43" width="46.50" height="1.49" fill="#843c0b"/>
<rect x="1364.10" y="956.20" width="46.50" height="2.23" fill="#203864"/>
<rect x="1364.10" y="945.16" width="46.50" height="11.03" fill="#385723"/>
<rect x="1364.10" y="942.93" width="46.50" height="2.23" fill="#f2a16a"/>
<rect x="1364.10" y="619.50" width="46.50" height="323.43" fill="#a5a5a5"/>
<rect x="1480.60" y="1048.05" width="46.50" height="3.70" fill="#ed7d31"/>
<rect x="1480.60" y="1046.44" width="46.50" height="1.61" fill="#a5a5a5"/>
<rect x="1480.60" y="1041.48" width="46.50" height="4.96" fill="#ffc000"/>
<rect x="1480.60" y="1040.00" width="46.50" height="1.49" fill="#4472c4"/>
<rect x="1480.60" y="1038.01" width="46.50" height="1.98" fill="#70ad47"/>
<rect x="1480.60" y="1036.28" width="46.50" height="1.74" fill="#255e91"/>
<rect x="1480.60" y="1032.81" width="46.50" height="3.47" fill="#997300"/>
<rect x="1480.60" y="1011.98" width="46.50" height="20.83" fill="#7cafdd"/>
<rect x="1480.60" y="1009.50" width="46.50" height="2.48" fill="#ffcd33"/>
<rect x="1480.60" y="1008.63" width="46.50" height="0.87" fill="#8cc168"/>
<rect x="1480.60" y="1006.15" width="46.50" height="2.48" fill="#327dc2"/>
<rect x="1480.60" y="998.10" width="46.50" height="8.06" fill="#cc9a00"/>
<rect x="1480.60" y="996.24" width="46.50" height="1.86" fill="#9dc3e6"/>
<rect x="1480.60" y="994.38" width="46.50" height="1.86" fill="#f4b183"/>
<rect x="1480.60" y="990.04" width="46.50" height="4.34" fill="#c9c9c9"/>
<rect x="1480.60" y="987.93" width="46.50" height="2.11" fill="#8faadc"/>
<rect x="1480.60" y="986.32" width="46.50" height="1.61" fill="#a9d18e"/>
<rect x="1480.60" y="984.46" width="46.50" height="1.86" fill="#1f4e79"/>
<rect x="1480.60" y="979.87" width="46.50" height="4.59" fill="#7f6000"/>
<rect x="1480.60" y="971.82" width="46.50" height="8.06" fill="#385723"/>
<rect x="1480.60" y="969.96" width="46.50" height="1.86" fill="#84b4e0"/>
<rect x="1480.60" y="968.10" width="46.50" height="1.86" fill="#f2a16a"/>
<rect x="1480.60" y="619.50" width="46.50" height="348.60" fill="#a5a5a5"/>
<line x1="1097.20" y1="618.70" x2="1097.20" y2="1059.85" stroke="#000" stroke-width="2.0" stroke-linecap="butt"/>
<line x1="1089.80" y1="1052.05" x2="1562.05" y2="1052.05" stroke="#000" stroke-width="2.0" stroke-linecap="butt"/>
<line x1="1089.80" y1="619.50" x2="1097.20" y2="619.50" stroke="#000" stroke-width="2.0" stroke-linecap="butt"/>
<text x="1078.20" y="624.20" font-size="19.6" text-anchor="end" font-weight="bold" textLength="29.80" lengthAdjust="spacingAndGlyphs">100</text>
<line x1="1089.80" y1="662.75" x2="1097.20" y2="662.75" stroke="#000" stroke-width="2.0" stroke-linecap="butt"/>
<text x="1078.20" y="667.46" font-size="19.6" text-anchor="end" font-weight="bold" textLength="20.00" lengthAdjust="spacingAndGlyphs">90</text>
<line x1="1089.80" y1="706.01" x2="1097.20" y2="706.01" stroke="#000" stroke-width="2.0" stroke-linecap="butt"/>
<text x="1078.20" y="710.71" font-size="19.6" text-anchor="end" font-weight="bold" textLength="20.00" lengthAdjust="spacingAndGlyphs">80</text>
<line x1="1089.80" y1="749.26" x2="1097.20" y2="749.26" stroke="#000" stroke-width="2.0" stroke-linecap="butt"/>
<text x="1078.20" y="753.97" font-size="19.6" text-anchor="end" font-weight="bold" textLength="20.00" lengthAdjust="spacingAndGlyphs">70</text>
<line x1="1089.80" y1="792.52" x2="1097.20" y2="792.52" stroke="#000" stroke-width="2.0" stroke-linecap="butt"/>
<text x="1078.20" y="797.22" font-size="19.6" text-anchor="end" font-weight="bold" textLength="20.00" lengthAdjust="spacingAndGlyphs">60</text>
<line x1="1089.80" y1="835.77" x2="1097.20" y2="835.77" stroke="#000" stroke-width="2.0" stroke-linecap="butt"/>
<text x="1078.20" y="840.48" font-size="19.6" text-anchor="end" font-weight="bold" textLength="20.00" lengthAdjust="spacingAndGlyphs">50</text>
<line x1="1089.80" y1="879.03" x2="1097.20" y2="879.03" stroke="#000" stroke-width="2.0" stroke-linecap="butt"/>
<text x="1078.20" y="883.73" font-size="19.6" text-anchor="end" font-weight="bold" textLength="20.00" lengthAdjust="spacingAndGlyphs">40</text>
<line x1="1089.80" y1="922.28" x2="1097.20" y2="922.28" stroke="#000" stroke-width="2.0" stroke-linecap="butt"/>
<text x="1078.20" y="926.99" font-size="19.6" text-anchor="end" font-weight="bold" textLength="20.00" lengthAdjust="spacingAndGlyphs">30</text>
<line x1="1089.80" y1="965.54" x2="1097.20" y2="965.54" stroke="#000" stroke-width="2.0" stroke-linecap="butt"/>
<text x="1078.20" y="970.24" font-size="19.6" text-anchor="end" font-weight="bold" textLength="20.00" lengthAdjust="spacingAndGlyphs">20</text>
<line x1="1089.80" y1="1008.79" x2="1097.20" y2="1008.79" stroke="#000" stroke-width="2.0" stroke-linecap="butt"/>
<text x="1078.20" y="1013.50" font-size="19.6" text-anchor="end" font-weight="bold" textLength="20.00" lengthAdjust="spacingAndGlyphs">10</text>
<line x1="1089.80" y1="1052.05" x2="1097.20" y2="1052.05" stroke="#000" stroke-width="2.0" stroke-linecap="butt"/>
<text x="1078.20" y="1056.75" font-size="19.6" text-anchor="end" font-weight="bold" textLength="10.00" lengthAdjust="spacingAndGlyphs">0</text>
<line x1="1213.75" y1="1052.05" x2="1213.75" y2="1059.85" stroke="#000" stroke-width="2.0" stroke-linecap="butt"/>
<line x1="1328.25" y1="1052.05" x2="1328.25" y2="1059.85" stroke="#000" stroke-width="2.0" stroke-linecap="butt"/>
<line x1="1444.50" y1="1052.05" x2="1444.50" y2="1059.85" stroke="#000" stroke-width="2.0" stroke-linecap="butt"/>
<line x1="1561.25" y1="1052.05" x2="1561.25" y2="1059.85" stroke="#000" stroke-width="2.0" stroke-linecap="butt"/>
<text x="1028.70" y="833.00" font-size="25" text-anchor="middle" font-weight="bold" transform="rotate(-90 1028.70 833.00)" textLength="356.00" lengthAdjust="spacingAndGlyphs" stroke="#000" stroke-width="0.12" stroke-linejoin="round">Genera relative abundance (%)</text>
<text x="1160.20" y="1081.00" font-size="19.5" text-anchor="end" font-weight="bold" transform="rotate(-45 1160.20 1081.00)" textLength="44.20" lengthAdjust="spacingAndGlyphs" stroke="#000" stroke-width="0.1" stroke-linejoin="round">CTRL</text>
<text x="1276.70" y="1081.00" font-size="19.5" text-anchor="end" font-weight="bold" transform="rotate(-45 1276.70 1081.00)" textLength="130.40" lengthAdjust="spacingAndGlyphs" stroke="#000" stroke-width="0.1" stroke-linejoin="round">GEM+nab-PTX</text>
<text x="1393.00" y="1081.00" font-size="19.5" text-anchor="end" font-weight="bold" transform="rotate(-45 1393.00 1081.00)" textLength="39.00" lengthAdjust="spacingAndGlyphs" stroke="#000" stroke-width="0.1" stroke-linejoin="round">PRO</text>
<text x="1509.50" y="1081.00" font-size="19.5" text-anchor="end" font-weight="bold" transform="rotate(-45 1509.50 1081.00)" textLength="184.60" lengthAdjust="spacingAndGlyphs" stroke="#000" stroke-width="0.1" stroke-linejoin="round">GEM+nab+PTX+PRO</text>
<rect x="1591.80" y="609.05" width="10.30" height="10.40" fill="#a5a5a5"/>
<text x="1607.30" y="619.65" font-size="18" text-anchor="start" textLength="55.80" lengthAdjust="spacingAndGlyphs">Others</text>
<rect x="1591.80" y="634.35" width="10.30" height="10.40" fill="#84b4e0"/>
<text x="1607.30" y="644.92" font-size="18" text-anchor="start" textLength="118.80" lengthAdjust="spacingAndGlyphs">Ruminococcus</text>
<rect x="1591.80" y="659.65" width="10.30" height="10.40" fill="#203864"/>
<text x="1607.30" y="670.20" font-size="18" text-anchor="start" textLength="81.55" lengthAdjust="spacingAndGlyphs">Roseburia</text>
<rect x="1591.80" y="684.95" width="10.30" height="10.40" fill="#525252"/>
<text x="1607.30" y="695.47" font-size="18" text-anchor="start" textLength="169.55" lengthAdjust="spacingAndGlyphs">Pseudoflavonifractor</text>
<rect x="1591.80" y="710.25" width="10.30" height="10.40" fill="#1f4e79"/>
<text x="1607.30" y="720.75" font-size="18" text-anchor="start" textLength="130.30" lengthAdjust="spacingAndGlyphs">Porphyromonas</text>
<rect x="1591.80" y="735.55" width="10.30" height="10.40" fill="#8faadc"/>
<text x="1607.30" y="746.02" font-size="18" text-anchor="start" textLength="133.80" lengthAdjust="spacingAndGlyphs">Parabacteroides</text>
<rect x="1591.80" y="760.85" width="10.30" height="10.40" fill="#c9c9c9"/>
<text x="1607.30" y="771.30" font-size="18" text-anchor="start" textLength="93.30" lengthAdjust="spacingAndGlyphs">Oscillospira</text>
<rect x="1591.80" y="786.15" width="10.30" height="10.40" fill="#9dc3e6"/>
<text x="1607.30" y="796.58" font-size="18" text-anchor="start" textLength="124.80" lengthAdjust="spacingAndGlyphs">Marvinbryantia</text>
<rect x="1591.80" y="811.45" width="10.30" height="10.40" fill="#335aa1"/>
<text x="1607.30" y="821.85" font-size="18" text-anchor="start" textLength="98.30" lengthAdjust="spacingAndGlyphs">Lachnotalea</text>
<rect x="1591.80" y="836.75" width="10.30" height="10.40" fill="#848484"/>
<text x="1607.30" y="847.12" font-size="18" text-anchor="start" textLength="122.05" lengthAdjust="spacingAndGlyphs">Intestinimonas</text>
<rect x="1591.80" y="862.05" width="10.30" height="10.40" fill="#327dc2"/>
<text x="1607.30" y="872.40" font-size="18" text-anchor="start" textLength="75.05" lengthAdjust="spacingAndGlyphs">Hespellia</text>
<rect x="1591.80" y="887.35" width="10.30" height="10.40" fill="#698ed0"/>
<text x="1607.30" y="897.67" font-size="18" text-anchor="start" textLength="113.30" lengthAdjust="spacingAndGlyphs">Flavonifractor</text>
<rect x="1591.80" y="912.65" width="10.30" height="10.40" fill="#b7b7b7"/>
<text x="1607.30" y="922.95" font-size="18" text-anchor="start" textLength="113.30" lengthAdjust="spacingAndGlyphs">Eisenbergiella</text>
<rect x="1591.80" y="937.95" width="10.30" height="10.40" fill="#7cafdd"/>
<text x="1607.30" y="948.23" font-size="18" text-anchor="start" textLength="93.80" lengthAdjust="spacingAndGlyphs">Clostridium</text>
<rect x="1591.80" y="963.25" width="10.30" height="10.40" fill="#264478"/>
<text x="1607.30" y="973.50" font-size="18" text-anchor="start" textLength="87.80" lengthAdjust="spacingAndGlyphs">Catabacter</text>
<rect x="1591.80" y="988.55" width="10.30" height="10.40" fill="#636363"/>
<text x="1607.30" y="998.77" font-size="18" text-anchor="start" textLength="195.30" lengthAdjust="spacingAndGlyphs">Candidatus Arthromitus</text>
<rect x="1591.80" y="1013.85" width="10.30" height="10.40" fill="#255e91"/>
<text x="1607.30" y="1024.05" font-size="18" text-anchor="start" textLength="57.05" lengthAdjust="spacingAndGlyphs">Blautia</text>
<rect x="1591.80" y="1039.15" width="10.30" height="10.40" fill="#4472c4"/>
<text x="1607.30" y="1049.33" font-size="18" text-anchor="start" textLength="122.05" lengthAdjust="spacingAndGlyphs">Anaerotruncus</text>
<rect x="1591.80" y="1064.45" width="10.30" height="10.40" fill="#a5a5a5"/>
<text x="1607.30" y="1074.60" font-size="18" text-anchor="start" textLength="130.05" lengthAdjust="spacingAndGlyphs">Anaerocolumna</text>
<rect x="1591.80" y="1089.75" width="10.30" height="10.40" fill="#5b9bd5"/>
<text x="1607.30" y="1099.88" font-size="18" text-anchor="start" textLength="105.05" lengthAdjust="spacingAndGlyphs">Acetatifactor</text>
<rect x="1849.60" y="608.65" width="11.60" height="11.20" fill="#f2a16a"/>
<text x="1866.50" y="619.65" font-size="18" text-anchor="start" textLength="80.30" lengthAdjust="spacingAndGlyphs">Tyzzerella</text>
<rect x="1849.60" y="633.95" width="11.60" height="11.20" fill="#385723"/>
<text x="1866.50" y="644.92" font-size="18" text-anchor="start" textLength="147.30" lengthAdjust="spacingAndGlyphs">Ruminiclostridium</text>
<rect x="1849.60" y="659.25" width="11.60" height="11.20" fill="#7f6000"/>
<text x="1866.50" y="670.20" font-size="18" text-anchor="start" textLength="110.30" lengthAdjust="spacingAndGlyphs">Robinsoniella</text>
<rect x="1849.60" y="684.55" width="11.60" height="11.20" fill="#843c0b"/>
<text x="1866.50" y="695.47" font-size="18" text-anchor="start" textLength="83.55" lengthAdjust="spacingAndGlyphs">Prevotella</text>
<rect x="1849.60" y="709.85" width="11.60" height="11.20" fill="#a9d18e"/>
<text x="1866.50" y="720.75" font-size="18" text-anchor="start" textLength="60.30" lengthAdjust="spacingAndGlyphs">Phocea</text>
<rect x="1849.60" y="735.15" width="11.60" height="11.20" fill="#ffd966"/>
<text x="1866.50" y="746.02" font-size="18" text-anchor="start" textLength="101.55" lengthAdjust="spacingAndGlyphs">Paludibacter</text>
<rect x="1849.60" y="760.45" width="11.60" height="11.20" fill="#f4b183"/>
<text x="1866.50" y="771.30" font-size="18" text-anchor="start" textLength="99.80" lengthAdjust="spacingAndGlyphs">Oscillibacter</text>
<rect x="1849.60" y="785.75" width="11.60" height="11.20" fill="#5a8a39"/>
<text x="1866.50" y="796.58" font-size="18" text-anchor="start" textLength="105.80" lengthAdjust="spacingAndGlyphs">Lactobacillus</text>
<rect x="1849.60" y="811.05" width="11.60" height="11.20" fill="#cc9a00"/>
<text x="1866.50" y="821.85" font-size="18" text-anchor="start" textLength="149.05" lengthAdjust="spacingAndGlyphs">Lachnoclostridium</text>
<rect x="1849.60" y="836.35" width="11.60" height="11.20" fill="#d26012"/>
<text x="1866.50" y="847.12" font-size="18" text-anchor="start" textLength="88.30" lengthAdjust="spacingAndGlyphs">Hungatella</text>
<rect x="1849.60" y="861.65" width="11.60" height="11.20" fill="#8cc168"/>
<text x="1866.50" y="872.40" font-size="18" text-anchor="start" textLength="91.55" lengthAdjust="spacingAndGlyphs">Flintibacter</text>
<rect x="1849.60" y="886.95" width="11.60" height="11.20" fill="#ffcd33"/>
<text x="1866.50" y="897.67" font-size="18" text-anchor="start" textLength="104.05" lengthAdjust="spacingAndGlyphs">Eubacterium</text>
<rect x="1849.60" y="912.25" width="11.60" height="11.20" fill="#f1975a"/>
<text x="1866.50" y="922.95" font-size="18" text-anchor="start" textLength="153.80" lengthAdjust="spacingAndGlyphs">Desulfotomaculum</text>
<rect x="1849.60" y="937.55" width="11.60" height="11.20" fill="#43682b"/>
<text x="1866.50" y="948.23" font-size="18" text-anchor="start" textLength="125.30" lengthAdjust="spacingAndGlyphs">Christensenella</text>
<rect x="1849.60" y="962.85" width="11.60" height="11.20" fill="#997300"/>
<text x="1866.50" y="973.50" font-size="18" text-anchor="start" textLength="152.05" lengthAdjust="spacingAndGlyphs">Caproiciproducens</text>
<rect x="1849.60" y="988.15" width="11.60" height="11.20" fill="#9e480e"/>
<text x="1866.50" y="998.77" font-size="18" text-anchor="start" textLength="117.05" lengthAdjust="spacingAndGlyphs">Butyricicoccus</text>
<rect x="1849.60" y="1013.45" width="11.60" height="11.20" fill="#70ad47"/>
<text x="1866.50" y="1024.05" font-size="18" text-anchor="start" textLength="107.05" lengthAdjust="spacingAndGlyphs">Angelakisella</text>
<rect x="1849.60" y="1038.75" width="11.60" height="11.20" fill="#ffc000"/>
<text x="1866.50" y="1049.33" font-size="18" text-anchor="start" textLength="118.30" lengthAdjust="spacingAndGlyphs">Anaeroplasma</text>
<rect x="1849.60" y="1064.05" width="11.60" height="11.20" fill="#ed7d31"/>
<text x="1866.50" y="1074.60" font-size="18" text-anchor="start" textLength="113.55" lengthAdjust="spacingAndGlyphs">Acholeplasma</text>
</g>
</svg>
</body>
</html>
